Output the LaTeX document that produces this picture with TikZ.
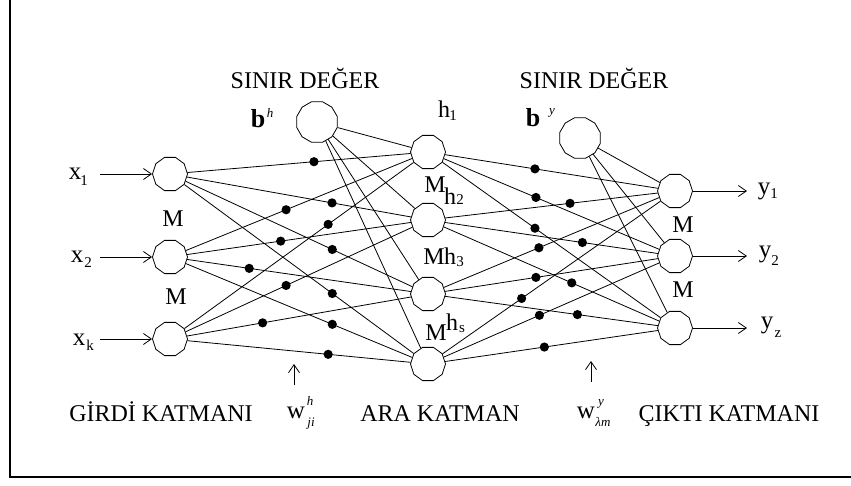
\documentclass[tikz,border=0pt]{standalone}
\usepackage{fontspec}
\setmainfont{Liberation Serif}
\usetikzlibrary{shapes.geometric,arrows.meta,calc}
\begin{document}
\begin{tikzpicture}[x=1pt,y=-1pt,
  neuron/.style={draw, regular polygon, regular polygon sides=10, minimum size=35pt, inner sep=0pt, line width=0.8pt},
  biasnode/.style={draw, regular polygon, regular polygon sides=12, minimum size=42pt, inner sep=0pt, line width=0.8pt},
  conn/.style={line width=0.8pt},
  inarrow/.style={line width=0.8pt, -{Straight Barb[length=8pt,width=11pt,line width=0.8pt]}},
  big/.style={font=\fontsize{24}{28}\selectfont, inner sep=0pt, anchor=base},
  letter/.style={font=\fontsize{25}{28}\selectfont, inner sep=0pt, anchor=base},
  small/.style={font=\fontsize{15}{16}\selectfont, inner sep=0pt, anchor=base},
  tiny/.style={font=\fontsize{13}{14}\selectfont\itshape, inner sep=0pt, anchor=base}]
\useasboundingbox (0,0) rectangle (851,486);
% frame
\draw[line width=1.8pt] (10,0) -- (10,477) -- (851,477);
% neurons
\node[neuron] (x1) at (170,174) {};
\node[neuron] (x2) at (170,257) {};
\node[neuron] (xk) at (170,339) {};
\node[neuron] (h1) at (428,152) {};
\node[neuron] (h2) at (428,220) {};
\node[neuron] (h3) at (428,294) {};
\node[neuron] (hs) at (428,364) {};
\node[neuron] (y1) at (675,191) {};
\node[neuron] (y2) at (675,256) {};
\node[neuron] (yz) at (675,328) {};
\node[biasnode] (bh) at (317,122) {};
\node[biasnode] (by) at (580,138) {};
% bias connections
\foreach \b in {h1,h2,h3,hs} \draw[conn] (bh) -- (\b);
\foreach \b in {y1,y2,yz} \draw[conn] (by) -- (\b);
% weighted connections with dots
\foreach \a/\b/\t in {x1/h1/0.558, x1/h2/0.628, x1/h3/0.629, x1/hs/0.629,
                      x2/h1/0.45, x2/h2/0.429, x2/h3/0.307, x2/hs/0.629,
                      xk/h1/0.613, xk/h2/0.45, xk/h3/0.359, xk/hs/0.613,
                      h1/y1/0.433, h1/y2/0.437, h1/yz/0.433,
                      h2/y1/0.575, h2/y2/0.625, h2/yz/0.582,
                      h3/y1/0.449, h3/y2/0.437, h3/yz/0.605,
                      hs/y1/0.379, hs/y2/0.451, hs/yz/0.471}
  {\draw[conn] (\a) -- (\b);
   \fill ($(\a)!\t!(\b)$) circle (4.6);}
% input and output arrows
\coordinate (ix1) at (100,174);
\coordinate (ix2) at (100,257);
\coordinate (ixk) at (100,339);
\draw[inarrow] (ix1) -- (x1);
\draw[inarrow] (ix2) -- (x2);
\draw[inarrow] (ixk) -- (xk);
\coordinate (oy1) at (747,191);
\coordinate (oy2) at (747,256);
\coordinate (oyz) at (747,328);
\draw[inarrow] (y1) -- (oy1);
\draw[inarrow] (y2) -- (oy2);
\draw[inarrow] (yz) -- (oyz);
% up arrows
\coordinate (ua1) at (294,385);
\coordinate (ub1) at (294,364);
\coordinate (ua2) at (591,382);
\coordinate (ub2) at (591,361);
\draw[inarrow] (ua1) -- (ub1);
\draw[inarrow] (ua2) -- (ub2);
% titles
\node[big] (t1) at (305,89) {SINIR DEĞER};
\node[big] (t2) at (594,89) {SINIR DEĞER};
% bias labels
\node[font=\fontsize{26}{28}\selectfont\bfseries, inner sep=0pt, anchor=base] (bhb) at (258,128) {b};
\node[tiny] (bhs) at (270,118) {h};
\node[font=\fontsize{26}{28}\selectfont\bfseries, inner sep=0pt, anchor=base] (byb) at (533,127) {b};
\node[tiny] (bys) at (552,115) {y};
% input labels
\node[letter] (lx1) at (75,180) {x};
\node[small] (lx1s) at (84,186) {1};
\node[letter] (lx2) at (77,263) {x};
\node[small] (lx2s) at (88,268) {2};
\node[letter] (lxk) at (79,345) {x};
\node[small] (lxks) at (90,350) {k};
% output labels
\node[letter] (ly1) at (764,195) {y};
\node[small] (ly1s) at (774,199) {1};
\node[letter] (ly2) at (765,258) {y};
\node[small] (ly2s) at (775,266) {2};
\node[letter] (lyz) at (767,328) {y};
\node[small] (lyzs) at (778,337) {z};
% M labels
\node[big] (m1) at (173,227) {M};
\node[big] (m2) at (176,305) {M};
\node[big] (m3) at (683,233) {M};
\node[big] (m4) at (683,298) {M};
% hidden labels
\node[big] (lh1) at (444,118) {h};
\node[small] (lh1s) at (453,121) {1};
\node[big] (mh2) at (435,193) {M};
\node[big] (lh2) at (450,205) {h};
\node[small] (lh2s) at (460,205) {2};
\node[big] (mh3) at (434,265) {M};
\node[big] (lh3) at (450,265) {h};
\node[small] (lh3s) at (460,267) {3};
\node[big] (mhs) at (436,340) {M};
\node[big] (lhs) at (452,330) {h};
\node[small] (lhss) at (462,332) {s};
% bottom labels
\node[big] (g1) at (161,421) {GİRDİ KATMANI};
\node[big] (g2) at (440,421) {ARA KATMAN};
\node[big] (g3) at (729,421) {ÇIKTI KATMANI};
\node[letter] (w1) at (296,418) {w};
\node[tiny] (w1h) at (310,405) {h};
\node[tiny] (w1s) at (311,426) {ji};
\node[letter] (w2) at (586,418) {w};
\node[tiny] (w2y) at (601,405) {y};
\node[tiny] (w2s) at (603,426) {λm};
\end{tikzpicture}
\end{document}
